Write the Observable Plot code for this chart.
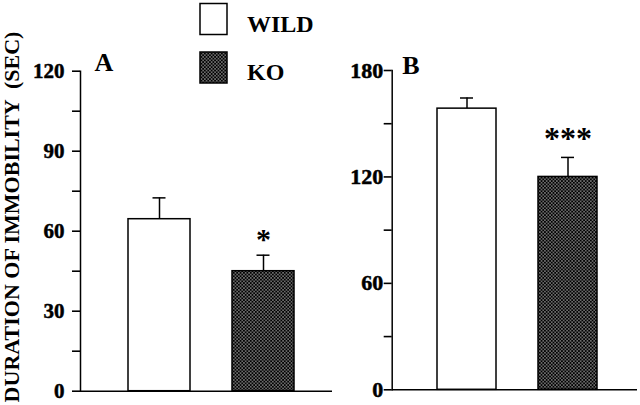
<!DOCTYPE html>
<html><head><meta charset="utf-8">
<script src="https://cdn.jsdelivr.net/npm/d3@7"></script>
<script src="https://cdn.jsdelivr.net/npm/@observablehq/plot@0.6"></script>
<style>
body{margin:0;background:#fff;}
#wrap{position:relative;width:640px;height:405px;overflow:hidden;font-family:"Liberation Serif","Times New Roman",serif;font-weight:bold;}
#wrap > svg, #wrap > div{position:absolute;}
#overlay{left:0;top:0;pointer-events:none;}
</style></head>
<body><div id="wrap">
<div id="pa" style="left:0;top:0"></div>
<div id="pb" style="left:335px;top:0"></div>
<svg id="overlay" width="640" height="405">
  <defs>
    <pattern id="dots" patternUnits="userSpaceOnUse" width="3.4" height="3.4">
      <rect width="3.4" height="3.4" fill="#000"/>
      <rect x="0.3" y="0.3" width="1.1" height="1.1" fill="#fff"/>
      <rect x="2.0" y="2.0" width="1.1" height="1.1" fill="#fff"/>
    </pattern>
  </defs>
  <g id="legend"></g>
  <text id="ytitle" transform="translate(19,217) rotate(-90)" text-anchor="middle" font-size="22" font-weight="bold" font-family="Liberation Serif, serif" style="white-space:pre"></text>
</svg>
</div>
<script>
const groups = ["WILD", "KO"];
const fills = ["white", "url(#dots)"];
const meanA = [64.5, 45];
const semA = [8, 6];
const sigA = ["", "*"];
const meanB = [158.5, 120];
const semB = [6, 11];
const sigB = ["", "***"];
const ticksA = [0, 15, 30, 45, 60, 75, 90, 105, 120];
const labelsA = [0, 30, 60, 90, 120];
const ticksB = [0, 30, 60, 90, 120, 150, 180];
const labelsB = [0, 60, 120, 180];
const yTitle = "DURATION OF IMMOBILITY  (SEC)";

function panel(o) {
  const data = groups.map((g, i) => ({g, m: o.mean[i], s: o.sem[i], top: o.mean[i] + o.sem[i], sig: o.sig[i], fill: fills[i]}));
  return Plot.plot({
    width: o.width, height: 405,
    marginLeft: o.ml, marginRight: o.mr, marginTop: o.mt, marginBottom: o.mb,
    style: `background:transparent;font-family:'Liberation Serif',serif;font-weight:bold;font-size:${o.fs}px;color:#000;overflow:visible;`,
    x: {domain: groups, paddingInner: o.pi, paddingOuter: o.po, align: o.align, axis: null},
    y: {domain: [0, o.yMax], axis: null},
    color: {type: "identity"},
    marks: [
      Plot.ruleX(data, {x: "g", y1: "m", y2: "top", stroke: "#000", strokeWidth: 1.5}),
      Plot.tickY(data, {x: "g", y: "top", stroke: "#000", strokeWidth: 1.5, insetLeft: o.capInset, insetRight: o.capInset}),
      Plot.barY(data, {x: "g", y: "m", fill: "fill", stroke: "#000", strokeWidth: 1.5}),
      Plot.axisY({ticks: o.ticks, tickSize: 8, strokeWidth: 1.6, tickFormat: () => ""}),
      Plot.text(o.labels, {y: d => d, text: d => String(d), frameAnchor: "left", textAnchor: "end", dx: -(8 + o.tp), fontSize: o.fs, fontWeight: "bold", fill: "#000", stroke: "#000", strokeWidth: 0.5}),
      Plot.frame({anchor: "left", stroke: "#000", strokeWidth: 1.5}),
      Plot.ruleY([0], {stroke: "#000", strokeWidth: 1.5}),
      Plot.text(data, {x: "g", y: "top", text: "sig", lineAnchor: "bottom", dy: o.sigDy, fontSize: o.sigSize, fill: "#000", fontWeight: "bold", style: {letterSpacing: o.sigLs + "px"}}),
      Plot.text([o.letter], {frameAnchor: "top-left", textAnchor: "start", lineAnchor: "bottom", dx: o.ldx, dy: o.ldy, fontSize: o.lfs, fontWeight: "bold", fill: "#000"})
    ]
  });
}

document.getElementById("pa").append(panel({
  mean: meanA, sem: semA, sig: sigA, yMax: 120, ticks: ticksA, labels: labelsA, letter: "A",
  width: 332, ml: 80, mr: 0, mt: 70.7, mb: 14.3, pi: 0.404, po: 0.404, align: 0.563,
  fs: 21, tp: 8, capInset: 24.5, sigDy: -6, sigSize: 30, sigLs: 0, ldx: 14, ldy: 0, lfs: 26
}));
document.getElementById("pb").append(panel({
  mean: meanB, sem: semB, sig: sigB, yMax: 180, ticks: ticksB, labels: labelsB, letter: "B",
  width: 302, ml: 56.7, mr: 0, mt: 70, mb: 15.7, pi: 0.42, po: 0.424, align: 0.53,
  fs: 22, tp: 1, capInset: 23, sigDy: -8, sigSize: 32, sigLs: 3, ldx: 10, ldy: 3, lfs: 26
}));

// legend
const lg = d3.select("#legend");
groups.forEach((g, i) => {
  const y0 = i === 0 ? 3.5 : 52;
  lg.append("rect").attr("x", 200).attr("y", y0).attr("width", 27).attr("height", 31)
    .attr("fill", fills[i]).attr("stroke", "#000").attr("stroke-width", 1.5);
  lg.append("text").attr("x", 247).attr("y", y0 + 28).attr("font-size", 24)
    .attr("font-weight", "bold").attr("font-family", "Liberation Serif, serif").text(g);
});
document.getElementById("ytitle").textContent = yTitle;
</script>
</body></html>
